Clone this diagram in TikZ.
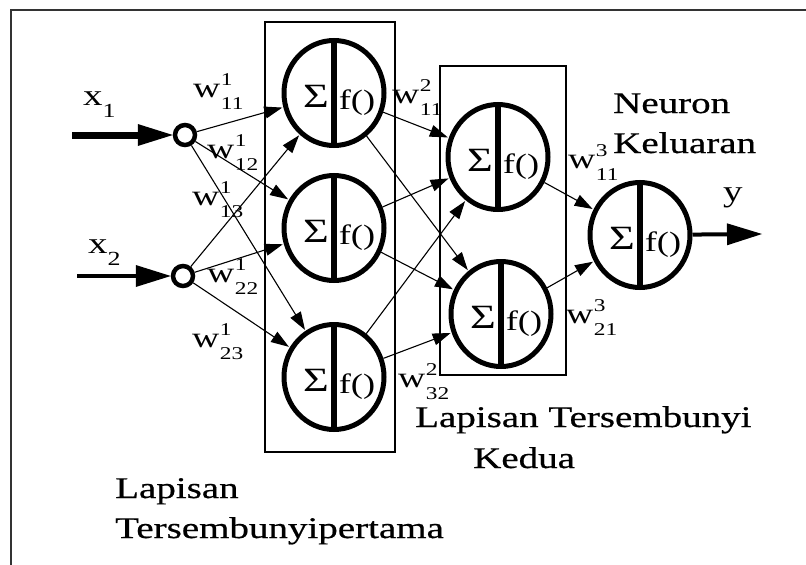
\documentclass[tikz,border=0pt]{standalone}
\usepackage{fontspec}
\setmainfont{Liberation Serif}[FakeStretch=1.3]
\newfontfamily\labfont{Liberation Serif}[FakeStretch=1.3,FakeBold=0.6]
\usetikzlibrary{arrows.meta,shapes.geometric}
\newcommand\wlab[2]{\fontsize{29}{29}\selectfont w\kern0.5pt\rlap{\raisebox{12pt}{\fontsize{18}{18}\selectfont #1}}\raisebox{-12pt}{\fontsize{18}{18}\selectfont #2}}
\newcommand\xlab[2]{\fontsize{30}{30}\selectfont #1\raisebox{-12pt}{\fontsize{20}{20}\selectfont #2}}
\begin{document}
\begin{tikzpicture}[x=1pt,y=-1pt,
  neuron/.style={ellipse,draw,line width=5pt,minimum width=100pt,minimum height=105pt,inner sep=0pt},
  inp/.style={circle,draw,line width=4.5pt,minimum size=20pt,inner sep=0pt},
  layerbox/.style={draw,line width=1.2pt},
  conn/.style={line width=1.1pt,-{Triangle[length=18pt,width=12pt]},shorten >=1pt},
  bigarrow/.style={-{Triangle[length=35pt,width=22pt,line width=0pt]}},
  wl/.style={inner sep=0pt,anchor=base west},
  lab/.style={inner sep=0pt,anchor=base west,font=\labfont\fontsize{30}{30}\selectfont},
  divider/.style={line width=6pt},
  sig/.style={inner sep=0pt,font=\fontsize{34}{34}\selectfont},
  fn/.style={inner sep=0pt,font=\fontsize{28}{28}\selectfont}]
\useasboundingbox (0,0) rectangle (806,565);
\draw[line width=2pt,draw=black!80] (11,565) -- (11,10) -- (806,10);
% layer boxes
\draw[layerbox] (265,22) rectangle (395,452);
\draw[layerbox] (440,66) rectangle (566,375);
% neurons
\node[neuron] (N1a) at (334,93) {};
\node[neuron] (N1b) at (334,228) {};
\node[neuron] (N1c) at (334,377) {};
\node[neuron] (N2a) at (498,157) {};
\node[neuron] (N2b) at (501,314) {};
\node[neuron] (N3) at (640,235) {};
\foreach \n in {N1a,N1b,N1c,N2a,N2b,N3}{
  \draw[divider] (\n.north) -- (\n.south);
  \node[sig] (\n-s) at ([shift={(-18,3)}]\n.center) {Σ};
  \node[fn] (\n-f) at ([shift={(23,10)}]\n.center) {f()};
}
% inputs
\node[inp] (I1) at (185,135) {};
\node[inp] (I2) at (183,276) {};
\coordinate (x1s) at (72,135);
\coordinate (x2s) at (77,276);
\coordinate (ye) at (762,234);
\draw[line width=7pt,bigarrow] (x1s) -- (I1);
\draw[line width=4pt,bigarrow] (x2s) -- (I2);
\draw[line width=4pt,bigarrow] (N3) -- (ye);
% connectors
\foreach \a in {I1,I2}{\foreach \b in {N1a,N1b,N1c}{\draw[conn] (\a) -- (\b);}}
\foreach \a in {N1a,N1b,N1c}{\foreach \b in {N2a,N2b}{\draw[conn] (\a) -- (\b);}}
\draw[conn] (N2a) -- (N3);
\draw[conn] (N2b) -- (N3);
% weight labels
\node[wl] (w111) at (193,97) {\wlab{1}{11}};
\node[wl] (w112) at (207,158) {\wlab{1}{12}};
\node[wl] (w113) at (192,205) {\wlab{1}{13}};
\node[wl] (w122) at (207,282) {\wlab{1}{22}};
\node[wl] (w123) at (192,347) {\wlab{1}{23}};
\node[wl] (w211) at (392,103) {\wlab{2}{11}};
\node[wl] (w232) at (398,387) {\wlab{2}{32}};
\node[wl] (w311) at (568,168) {\wlab{3}{11}};
\node[wl] (w321) at (566,323) {\wlab{3}{21}};
% io labels
\node[wl] (lx1) at (83,105) {\xlab{x}{1}};
\node[wl] (lx2) at (88,253) {\xlab{x}{2}};
\node[wl,font=\fontsize{30}{30}\selectfont] (ly) at (723,201) {y};
% texts
\node[lab] (t1) at (613,113) {Neuron};
\node[lab] (t2) at (613,153) {Keluaran};
\node[lab] (t3) at (415,427) {Lapisan Tersembunyi};
\node[lab] (t4) at (473,468) {Kedua};
\node[lab] (t5) at (115,498) {Lapisan};
\node[lab] (t6) at (115,538) {Tersembunyipertama};
\end{tikzpicture}
\end{document}
